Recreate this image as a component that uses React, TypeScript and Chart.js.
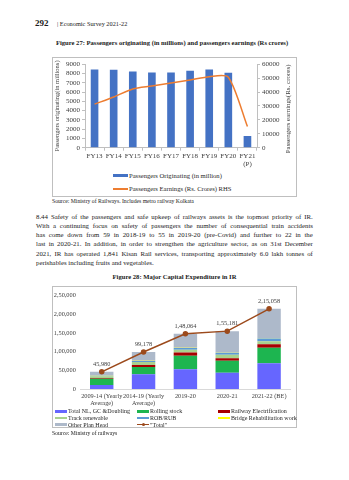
import React, { useEffect, useRef } from "react";
import { Chart, registerables } from "chart.js";

Chart.register(...registerables);

const SERIF = '"Liberation Serif", "Times New Roman", serif';

// ---------- Figure 27 data ----------
const FY_LABELS: (string | string[])[] = ["FY13", "FY14", "FY15", "FY16", "FY17", "FY18", "FY19", "FY20", ["FY21", "(P)"]];
const PASSENGERS_ORIGINATING = [8421, 8397, 8224, 8107, 8116, 8286, 8439, 8086, 1250];
const PASSENGER_EARNINGS = [31323, 36480, 42190, 44283, 46530, 48640, 51066, 50669, 15248];
const LEFT_AXIS_TITLE = "Passengers originating(in millions)";
const RIGHT_AXIS_TITLE = "Passengers earnings(Rs. crores)";
const FIG27_SERIES = ["Passengers Originating (in million)", "Passengers Earnings (Rs. Crores) RHS"];

// ---------- Figure 28 data ----------
const CAPEX_PERIODS: (string | string[])[] = [
  ["2009-14 (Yearly", "Average)"],
  ["2014-19 (Yearly", "Average)"],
  "2019-20",
  "2020-21",
  "2021-22 (BE)",
];
const TOTAL_NL_GC_DOUBLING = [11000, 39500, 52800, 43400, 68900];
const ROLLING_STOCK = [16400, 19800, 36500, 32400, 41600];
const RAILWAY_ELECTRIFICATION = [1800, 5000, 8400, 6600, 9400];
const TRACK_RENEWABLE = [5000, 7800, 7700, 9500, 8400];
const ROB_RUB = [1500, 3000, 4500, 5100, 6900];
const BRIDGE_REHAB = [400, 700, 800, 1000, 1000];
const OTHER_PLAN_HEAD = [9880, 23378, 37364, 57181, 78858];
const TOTAL = [45980, 99178, 148064, 155181, 215058];
const TOTAL_LABELS = ["45,980", "99,178", "1,48,064", "1,55,181", "2,15,058"];
const Y2_TICK_LABELS = ["0", "50,000", "1,00,000", "1,50,000", "2,00,000", "2,50,000"];

const CAPEX_SERIES = [
  { name: "Total NL, GC &Doubling", data: TOTAL_NL_GC_DOUBLING, color: "#6666FF" },
  { name: "Rolling stock", data: ROLLING_STOCK, color: "#1DB550" },
  { name: "Railway Electrification", data: RAILWAY_ELECTRIFICATION, color: "#A80000" },
  { name: "Track renewable", data: TRACK_RENEWABLE, color: "#A9D18E" },
  { name: "ROB/RUB", data: ROB_RUB, color: "#5B9BD5" },
  { name: "Bridge Rehabilitation work", data: BRIDGE_REHAB, color: "#FFFF00" },
  { name: "Other Plan Head", data: OTHER_PLAN_HEAD, color: "#ADB9CA" },
];
const TOTAL_NAME = '"Total"';
const TOTAL_COLOR = "#9C4A1C";

const PARAGRAPH_LINES = [
  "8.44 Safety of the passengers and safe upkeep of railways assets is the topmost priority of IR.",
  "With a continuing focus on safety of passengers the number of consequential train accidents",
  "has come down from 59 in 2018-19 to 55 in 2019-20 (pre-Covid) and further to 22 in the",
  "last in 2020-21. In addition, in order to strengthen the agriculture sector, as on 31st December",
  "2021, IR has operated 1,841 Kisan Rail services, transporting approximately 6.0 lakh tonnes of",
  "perishables including fruits and vegetables.",
];

const AXIS_COLOR = "#BFBFBF";
const LABEL_COLOR = "#404040";

type TProps = { x: number; y: number; fs: number; bold?: boolean; w?: number; align?: "left" | "center"; color?: string; children: React.ReactNode };
function T({ x, y, fs, bold, w, align, color, children }: TProps) {
  return (
    <div
      style={{
        position: "absolute",
        left: x,
        top: y - 0.8375 * fs,
        width: w,
        fontSize: fs,
        lineHeight: `${fs}px`,
        fontWeight: bold ? 700 : 400,
        whiteSpace: "nowrap",
        textAlign: align || "left",
        color: color || "#1a1a1a",
      }}
    >
      {children}
    </div>
  );
}

function PassengerChart() {
  const ref = useRef<HTMLCanvasElement>(null);
  useEffect(() => {
    const rightTitle = {
      id: "rightTitle",
      afterDraw(chart: any) {
        const s = chart.scales.y1;
        const ctx = chart.ctx;
        ctx.save();
        ctx.translate(s.right - 8, (s.top + s.bottom) / 2 + 3);
        ctx.rotate(-Math.PI / 2);
        ctx.font = `7px ${SERIF}`;
        ctx.fillStyle = LABEL_COLOR;
        ctx.textAlign = "center";
        ctx.textBaseline = "middle";
        ctx.fillText(RIGHT_AXIS_TITLE, 0, 0);
        ctx.restore();
      },
    };
    const chart = new Chart(ref.current as HTMLCanvasElement, {
      type: "bar",
      data: {
        labels: FY_LABELS as any,
        datasets: [
          {
            type: "line",
            label: FIG27_SERIES[1],
            data: PASSENGER_EARNINGS,
            yAxisID: "y1",
            borderColor: "#ED7D31",
            borderWidth: 1.5,
            pointRadius: 0,
            tension: 0.25,
            order: 0,
          } as any,
          {
            type: "bar",
            label: FIG27_SERIES[0],
            data: PASSENGERS_ORIGINATING,
            yAxisID: "y",
            backgroundColor: "#4472C4",
            barPercentage: 0.4,
            categoryPercentage: 1,
            order: 1,
          } as any,
        ],
      },
      options: {
        animation: false,
        responsive: false,
        maintainAspectRatio: false,
        layout: { padding: { top: 4.3, left: 0, right: 0, bottom: 0 } },
        plugins: { legend: { display: false }, tooltip: { enabled: false } },
        scales: {
          x: {
            grid: { offset: true, drawOnChartArea: false, drawTicks: true, tickLength: 3, color: AXIS_COLOR },
            border: { color: AXIS_COLOR },
            ticks: { font: { family: SERIF, size: 7 }, color: LABEL_COLOR, padding: 1, maxRotation: 0, autoSkip: false },
            afterFit: (s: any) => { s.height = 22.3; },
          },
          y: {
            min: 0,
            max: 9000,
            grid: { drawOnChartArea: false, drawTicks: true, tickLength: 3, color: AXIS_COLOR },
            border: { color: AXIS_COLOR },
            ticks: {
              stepSize: 1000,
              autoSkip: false,
              font: { family: SERIF, size: 7 },
              color: LABEL_COLOR,
              padding: 2,
              callback: (v: any) => String(v),
            },
            title: { display: true, text: LEFT_AXIS_TITLE, font: { family: SERIF, size: 6.5 }, color: LABEL_COLOR, padding: 0 },
            afterFit: (s: any) => { s.width = 32; },
          },
          y1: {
            position: "right",
            min: 0,
            max: 60000,
            grid: { drawOnChartArea: false, drawTicks: true, tickLength: 3, color: AXIS_COLOR },
            border: { color: AXIS_COLOR },
            ticks: {
              stepSize: 10000,
              autoSkip: false,
              font: { family: SERIF, size: 7 },
              color: LABEL_COLOR,
              padding: 2,
              callback: (v: any) => String(v),
            },
            afterFit: (s: any) => { s.width = 39; },
          },
        },
      } as any,
      plugins: [rightTitle],
    });
    return () => chart.destroy();
  }, []);
  return <canvas ref={ref} width={243} height={112} style={{ position: "absolute", left: 53, top: 58, display: "block" }} />;
}

function CapexChart() {
  const ref = useRef<HTMLCanvasElement>(null);
  useEffect(() => {
    const totalLabels = {
      id: "totalLabels",
      afterDatasetsDraw(chart: any) {
        const idx = chart.data.datasets.findIndex((d: any) => d.type === "line");
        const meta = chart.getDatasetMeta(idx);
        const ctx = chart.ctx;
        ctx.save();
        ctx.font = `6.3px ${SERIF}`;
        ctx.fillStyle = LABEL_COLOR;
        ctx.textAlign = "center";
        ctx.textBaseline = "middle";
        meta.data.forEach((pt: any, i: number) => ctx.fillText(TOTAL_LABELS[i], pt.x, pt.y - 7.5));
        ctx.restore();
      },
    };
    const chart = new Chart(ref.current as HTMLCanvasElement, {
      type: "bar",
      data: {
        labels: CAPEX_PERIODS as any,
        datasets: [
          {
            type: "line",
            label: TOTAL_NAME,
            data: TOTAL,
            stack: "total",
            borderColor: TOTAL_COLOR,
            backgroundColor: TOTAL_COLOR,
            pointBackgroundColor: TOTAL_COLOR,
            pointBorderColor: TOTAL_COLOR,
            pointRadius: 2,
            borderWidth: 1.5,
            order: 0,
          } as any,
          ...CAPEX_SERIES.map((s) => ({
            type: "bar",
            label: s.name,
            data: s.data,
            backgroundColor: s.color,
            stack: "bars",
            barPercentage: 0.56,
            categoryPercentage: 1,
            order: 1,
          })),
        ] as any,
      },
      options: {
        animation: false,
        responsive: false,
        maintainAspectRatio: false,
        layout: { padding: { top: 4, left: 0, right: 6, bottom: 0 } },
        plugins: { legend: { display: false }, tooltip: { enabled: false } },
        scales: {
          x: {
            stacked: true,
            grid: { display: false, drawTicks: false },
            border: { display: true, color: "#D9D9D9" },
            ticks: { font: { family: SERIF, size: 6.3 }, color: LABEL_COLOR, padding: 3.5, maxRotation: 0, autoSkip: false },
            afterFit: (s: any) => { s.height = 20; },
          },
          y: {
            stacked: true,
            min: 0,
            max: 250000,
            grid: { display: false, drawTicks: false },
            border: { display: false },
            ticks: {
              stepSize: 50000,
              autoSkip: false,
              font: { family: SERIF, size: 6.3 },
              color: LABEL_COLOR,
              padding: 5,
              callback: (v: any) => Y2_TICK_LABELS[Math.round(Number(v) / 50000)],
            },
            afterFit: (s: any) => { s.width = 27.8; },
          },
        },
      } as any,
      plugins: [totalLabels],
    });
    return () => chart.destroy();
  }, []);
  return <canvas ref={ref} width={243} height={122} style={{ position: "absolute", left: 53, top: 287, display: "block" }} />;
}

function JustifiedLine({ text, x, y, w, fs, last }: { text: string; x: number; y: number; w: number; fs: number; last?: boolean }) {
  const words = text.split(" ");
  return (
    <div
      style={{
        position: "absolute",
        left: x,
        top: y - 0.8375 * fs,
        width: w,
        fontSize: fs,
        lineHeight: `${fs}px`,
        display: "flex",
        justifyContent: last ? "flex-start" : "space-between",
        whiteSpace: "nowrap",
        color: "#1a1a1a",
        gap: last ? "0.25em" : undefined,
      }}
    >
      {words.map((wd, i) => (
        <span key={i}>{wd}</span>
      ))}
    </div>
  );
}

export default function App() {
  const legend2Cols = [55, 137, 218];
  const legend2Rows = [411.3, 418, 424.7];
  const legendItems = [...CAPEX_SERIES.map((s) => ({ name: s.name, color: s.color, line: false })), { name: TOTAL_NAME, color: TOTAL_COLOR, line: true }];
  return (
    <div style={{ position: "absolute", left: 0, top: 0, width: 349, height: 480, background: "#fff", fontFamily: SERIF, overflow: "hidden" }}>
      <T x={35} y={26.7} fs={9} bold>292</T>
      <T x={57} y={26.7} fs={6.3}>| Economic Survey 2021-22</T>
      <T x={0} w={344} y={45.5} fs={6.6} bold align="center">
        Figure 27: Passengers originating (in millions) and passengers earnings (Rs crores)
      </T>

      {/* Figure 27 frame */}
      <div style={{ position: "absolute", left: 52, top: 57, width: 243, height: 138, border: `1px solid ${AXIS_COLOR}` }} />
      <PassengerChart />
      <div style={{ position: "absolute", left: 113, top: 174.2, width: 15, height: 3, background: "#4472C4" }} />
      <T x={129} y={178.1} fs={6.6} color="#262626">{FIG27_SERIES[0]}</T>
      <div style={{ position: "absolute", left: 113, top: 188, width: 15, height: 1.5, background: "#ED7D31" }} />
      <T x={129} y={191.1} fs={6.6} color="#262626">{FIG27_SERIES[1]}</T>

      <T x={52} y={204} fs={5.7}>Source: Ministry of Railways. Includes metro railway Kolkata</T>

      {PARAGRAPH_LINES.map((ln, i) => (
        <JustifiedLine key={i} text={ln} x={36} y={219.5 + i * 9.2} w={277} fs={6.8} last={i === PARAGRAPH_LINES.length - 1} />
      ))}

      <T x={0} w={349} y={280} fs={6.6} bold align="center">
        Figure 28: Major Capital Expenditure in IR
      </T>

      {/* Figure 28 frame */}
      <div style={{ position: "absolute", left: 52, top: 286, width: 243, height: 140, border: `1px solid ${AXIS_COLOR}` }} />
      <CapexChart />
      {legendItems.map((it, i) => {
        const col = legend2Cols[i % 3];
        const row = legend2Rows[Math.floor(i / 3)];
        return (
          <React.Fragment key={i}>
            {it.line ? (
              <>
                <div style={{ position: "absolute", left: col, top: row - 0.6, width: 12, height: 1.2, background: it.color }} />
                <div style={{ position: "absolute", left: col + 4.5, top: row - 1.6, width: 3.2, height: 3.2, borderRadius: "50%", background: it.color }} />
              </>
            ) : (
              <div style={{ position: "absolute", left: col, top: row - 1.3, width: 12, height: 2.6, background: it.color }} />
            )}
            <T x={col + 13} y={row + 2} fs={6} color="#262626">{it.name}</T>
          </React.Fragment>
        );
      })}

      <T x={52} y={435.5} fs={5.7}>Source: Ministry of railways</T>
    </div>
  );
}
